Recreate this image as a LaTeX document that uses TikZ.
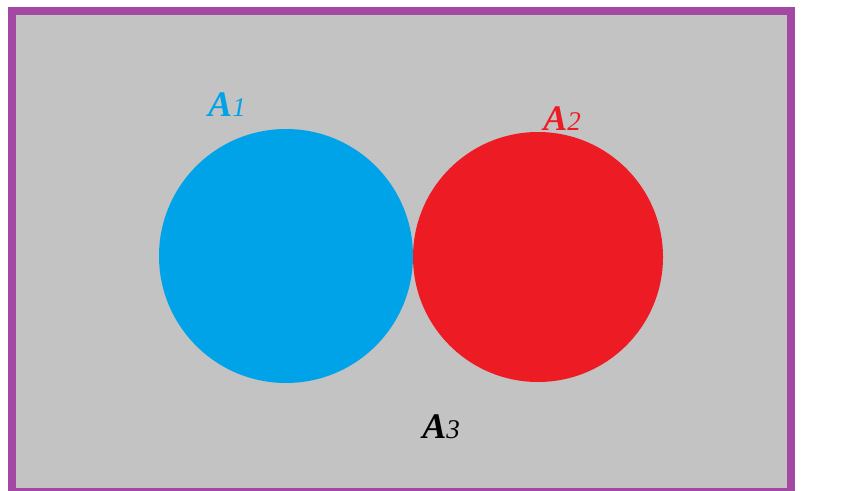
\documentclass[tikz,border=0pt]{standalone}
\usepackage{fontspec}
\setmainfont{Liberation Serif}
\definecolor{framepurple}{HTML}{A349A4}
\definecolor{bggray}{HTML}{C3C3C3}
\definecolor{setblue}{HTML}{00A2E8}
\definecolor{setred}{HTML}{ED1C24}
\tikzset{
  setlabel/.style={anchor=base, inner sep=0pt},
}
\newcommand{\setname}[1]{{\fontsize{36}{40}\selectfont\bfseries\itshape A}{\fontsize{27}{30}\selectfont\itshape #1}}
\begin{document}
\begin{tikzpicture}[x=1pt,y=-1pt]
\useasboundingbox (0,0) rectangle (845,490);
\begin{scope}
\clip (0,0) rectangle (845,490);
\draw[framepurple, line width=8pt, fill=bggray] (12,11) rectangle (791,492);
\end{scope}
\node[circle, fill=setblue, minimum size=254pt, inner sep=0pt] (c1) at (286,256) {};
\node[circle, fill=setred, minimum size=250pt, inner sep=0pt] (c2) at (538,257) {};
\node[setlabel, text=setblue] (l1) at (227,116) {\setname{1}};
\node[setlabel, text=setred] (l2) at (562,130) {\setname{2}};
\node[setlabel, text=black] (l3) at (441,438) {\setname{3}};
\end{tikzpicture}
\end{document}
